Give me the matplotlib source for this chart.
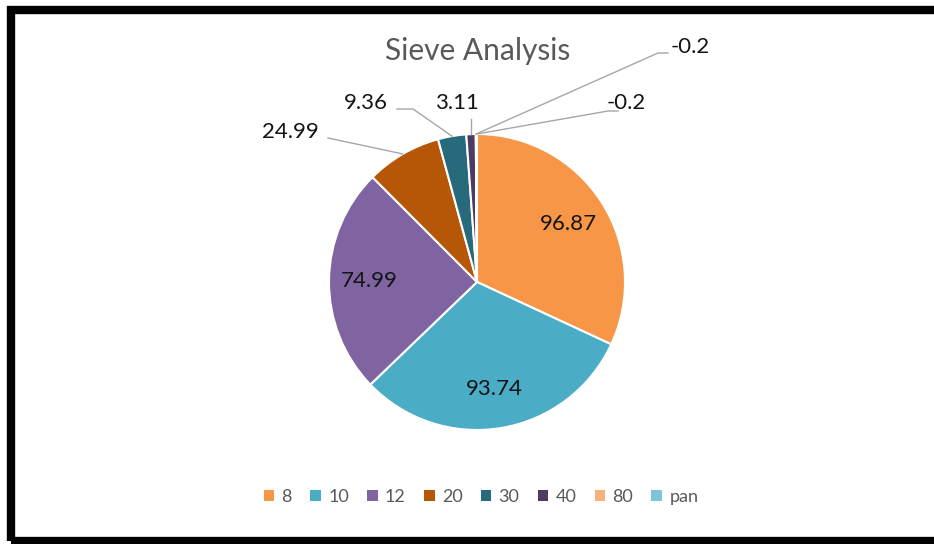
import matplotlib.pyplot as plt
import numpy as np
from matplotlib.patches import Rectangle

sieves = ['8', '10', '12', '20', '30', '40', '80', 'pan']
retained = [96.87, 93.74, 74.99, 24.99, 9.36, 3.11, -0.2, -0.2]
colors = ['#F79646', '#4BACC6', '#8064A2', '#B65708', '#276A7C', '#4D3B62', '#F9B07A', '#7CC5D8']

plt.rcParams['font.family'] = ['Lato', 'DejaVu Sans']

fig = plt.figure(figsize=(9.34, 5.44), dpi=100)
ax = fig.add_axes([0, 0, 1, 1])
ax.set_xlim(0, 934)
ax.set_ylim(0, 544)
ax.set_aspect('equal')
ax.axis('off')

cx, cy, r = 477, 262, 148
# excel draws negative values by magnitude
wedges, _ = ax.pie(np.abs(retained), colors=colors, startangle=90, counterclock=False,
                   center=(cx, cy), radius=r,
                   wedgeprops=dict(edgecolor='white', linewidth=1.5))
ax.set_xlim(0, 934)
ax.set_ylim(0, 544)

def edge(w, f=1.0):
    a = np.deg2rad((w.theta1 + w.theta2) / 2)
    return cx + f * r * np.cos(a), cy + f * r * np.sin(a)

lbl = dict(fontsize=16, color='#141414', ha='center', va='center')
# inside labels
for i in range(3):
    x, y = edge(wedges[i], 0.73)
    ax.text(x, y, f'{retained[i]:g}', **lbl)

# outside labels with leaders: (text pos, elbow pos)
outside = {3: ((290, 412), (328, 406)),
           4: ((366, 441), (413, 435)),
           5: ((457, 441), None),
           6: ((690, 497), (658, 491)),
           7: ((626, 441), (608, 433))}
for i, (tp, elbow) in outside.items():
    ex, ey = edge(wedges[i], 1.0)
    if elbow is None:
        ax.plot([ex, ex], [ey, ey + 15], color='#a6a6a6', lw=1)
    else:
        if i == 4:
            ax.plot([397, elbow[0], ex], [elbow[1], elbow[1], ey], color='#a6a6a6', lw=1)
        elif i in (6, 7):
            ax.plot([ex, elbow[0], elbow[0] + 10], [ey, elbow[1], elbow[1]], color='#a6a6a6', lw=1)
        else:
            ax.plot([elbow[0], ex], [elbow[1], ey], color='#a6a6a6', lw=1)
    ax.text(tp[0], tp[1], f'{retained[i]:g}', **lbl)

ax.text(478, 493, 'Sieve Analysis', fontsize=21.5, color='#595959', ha='center', va='center')

leg = ax.legend(wedges, sieves, loc='center', bbox_to_anchor=(481 / 934, 47 / 544),
                ncol=8, frameon=False, fontsize=13, handlelength=0.6, handleheight=0.6,
                handletextpad=0.4, columnspacing=1.0)
for t in leg.get_texts():
    t.set_color('#595959')
for h in leg.legend_handles:
    h.set_edgecolor('none')

fig.patches.append(Rectangle((11, 3), 940, 531, transform=None, fill=False,
                             edgecolor='black', linewidth=6))

fig.savefig('out.png', dpi=100)
